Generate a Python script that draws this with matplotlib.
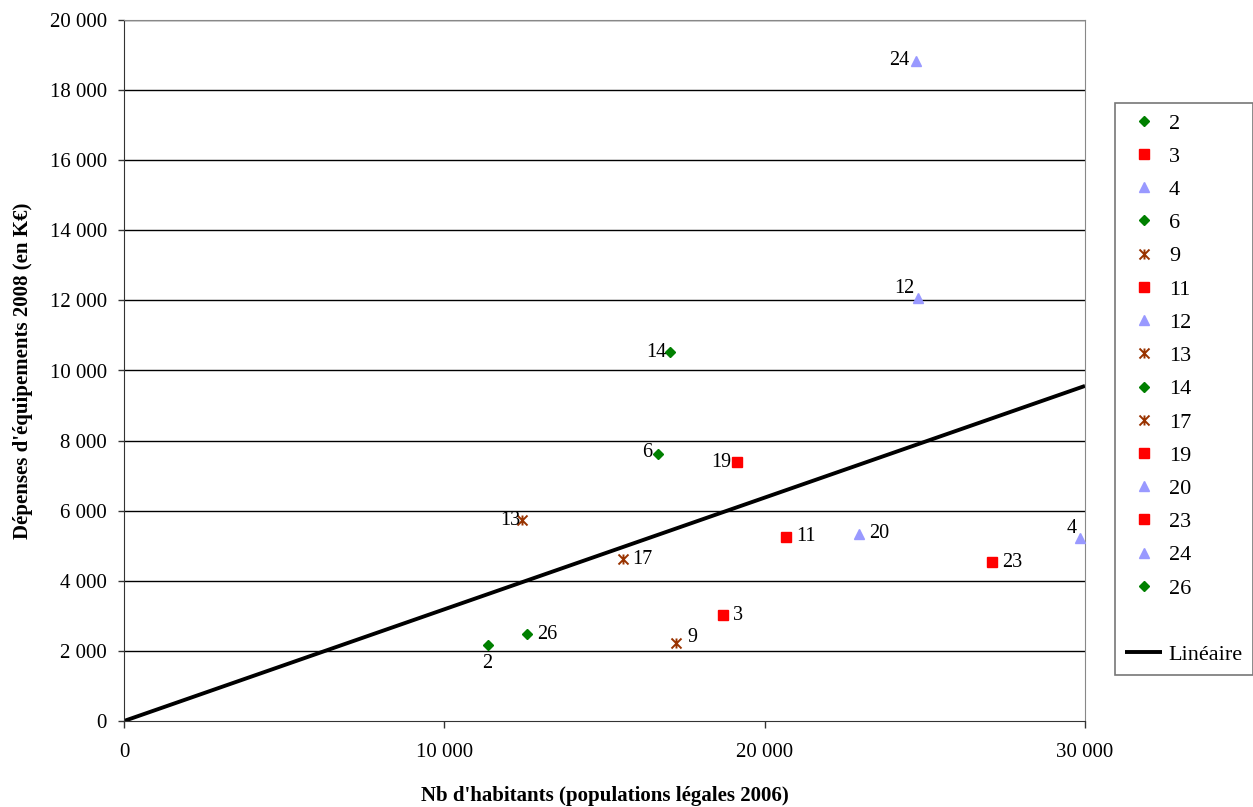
import matplotlib
matplotlib.use("Agg")
import matplotlib.pyplot as plt
from matplotlib.path import Path
from matplotlib.lines import Line2D

plt.rcParams['font.family'] = ['Liberation Serif', 'DejaVu Serif']

# ---- data ----
labels = ['2', '3', '4', '6', '9', '11', '12', '13', '14', '17', '19', '20', '23', '24', '26']
habitants = [11350, 18700, 29830, 16660, 17220, 20670, 24800, 12420, 17060, 15570, 19130, 22950, 27100, 24720, 12570]
depenses = [2180, 3020, 5210, 7620, 2230, 5250, 12060, 5730, 10520, 4620, 7380, 5340, 4540, 18840, 2480]
groups = ['g', 'r', 'b', 'g', 'x', 'r', 'b', 'x', 'g', 'x', 'r', 'b', 'r', 'b', 'g']
trend_x = [0, 30000]
trend_y = [0, 9560]
x_ticks = [0, 10000, 20000, 30000]
y_ticks = list(range(0, 20001, 2000))

# label placement: (dx px, dy px, ha, va)
label_pos = {
    '2': (0, -9, 'center', 'top'),
    '3': (10, 0, 'left', 'center'),
    '4': (-8, 10, 'center', 'center'),
    '6': (-5, 1, 'right', 'center'),
    '9': (12, 5, 'left', 'center'),
    '11': (10, 0, 'left', 'center'),
    '12': (-4, 10, 'right', 'center'),
    '13': (-2, 0, 'right', 'center'),
    '14': (-4, 0, 'right', 'center'),
    '17': (9, 0, 'left', 'center'),
    '19': (-5, 0, 'right', 'center'),
    '20': (10, 0, 'left', 'center'),
    '23': (10, -1, 'left', 'center'),
    '24': (-6, 0, 'right', 'center'),
    '26': (10, 0, 'left', 'center'),
}

# star marker (x with vertical bar)
star_path = Path([(-1, -1), (1, 1), (-1, 1), (1, -1), (0, -1), (0, 1)],
                 [Path.MOVETO, Path.LINETO, Path.MOVETO, Path.LINETO, Path.MOVETO, Path.LINETO])

styles = {
    'g': dict(marker='D', ms=5.6, color='#008000', mec='#008000'),
    'r': dict(marker='s', ms=7.4, color='#FF0000', mec='#FF0000'),
    'b': dict(marker='^', ms=7.6, color='#9999FF', mec='#9999FF'),
    'x': dict(marker=star_path, ms=7.2, color='#993300', mec='#993300', mew=1.4, mfc='none'),
}

fig = plt.figure(figsize=(12.53, 8.07), dpi=100)
ax = fig.add_axes([124 / 1253, 1 - 721 / 807, (1085 - 124) / 1253, (721 - 20) / 807])

for y in y_ticks[1:]:
    ax.axhline(y, color='#000000', lw=1.0, zorder=1)

handles = []
for lab, xv, yv, g in zip(labels, habitants, depenses, groups):
    st = styles[g]
    h, = ax.plot([xv], [yv], linestyle='none', zorder=3, **st)
    handles.append(h)
    dx, dy, ha, va = label_pos[lab]
    ax.annotate(lab, (xv, yv), xytext=(dx, dy), textcoords='offset pixels',
                ha=ha, va=va, fontsize=14.5, color='black', zorder=4)

tl, = ax.plot(trend_x, trend_y, color='black', lw=2.8, zorder=2, solid_capstyle='butt')

ax.set_xlim(0, 30000)
ax.set_ylim(0, 20000)
ax.set_xticks(x_ticks)
ax.set_yticks(y_ticks)
fmt = lambda v: '0' if v == 0 else f"{v:,}".replace(',', ' ')
ax.set_xticklabels([fmt(v) for v in x_ticks], fontsize=15)
ax.set_yticklabels([fmt(v) for v in y_ticks], fontsize=15)
ax.tick_params(axis='x', direction='out', length=5, width=1, pad=11, color='#333333')
ax.tick_params(axis='y', direction='out', length=4.3, width=1, pad=8, color='#333333')

ax.spines['right'].set_color('#888888')
ax.spines['left'].set_color('#333333')
ax.spines['bottom'].set_color('#333333')
ax.spines['top'].set_color('#888888')

ax.set_xlabel("Nb d'habitants (populations légales 2006)", fontsize=15, fontweight='bold', labelpad=17)
ax.set_ylabel("Dépenses d'équipements 2008 (en K€)", fontsize=15, fontweight='bold', labelpad=12)

blank = Line2D([], [], linestyle='none', marker=None)
leg_handles = handles + [blank, tl]
leg_labels = labels + [' ', 'Linéaire']
leg = fig.legend(leg_handles, leg_labels, loc='upper left',
                 bbox_to_anchor=(1115 / 1253, 1 - 103 / 807), fontsize=16,
                 frameon=True, fancybox=False, edgecolor='#777777', framealpha=1,
                 handlelength=1.67, handletextpad=0.3, labelspacing=0.57,
                 borderpad=0.45, borderaxespad=0)
leg.get_frame().set_linewidth(1.2)

fig.savefig('out.png', dpi=100)
